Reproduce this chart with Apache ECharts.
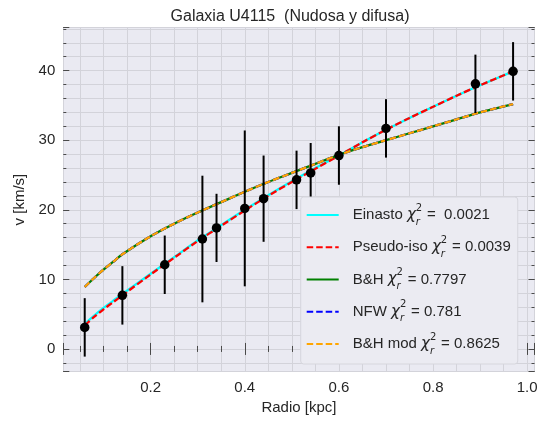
<!DOCTYPE html>
<html>
<head>
<meta charset="utf-8">
<script src="https://cdn.jsdelivr.net/npm/echarts@6/dist/echarts.min.js"></script>
<style>
  html, body { margin: 0; padding: 0; background: #ffffff; }
  #chart { width: 543px; height: 421px; }
</style>
</head>
<body>
<div id="chart"></div>
<script>
// Observed rotation curve of U4115 (radius in kpc, velocity and error in km/s)
const radioObs = [0.06, 0.14, 0.23, 0.31, 0.34, 0.40, 0.44, 0.51, 0.54, 0.60, 0.70, 0.89, 0.97];
const vObs     = [3.1, 7.7, 12.1, 15.8, 17.4, 20.2, 21.6, 24.3, 25.3, 27.8, 31.7, 38.1, 39.9];
const errObs   = [4.2, 4.2, 4.2, 9.1, 4.9, 11.2, 6.2, 4.2, 4.3, 4.2, 4.2, 4.2, 4.2];

// Fitted halo models, sampled along the radius
const radioModelo = [0.06, 0.08, 0.10, 0.12, 0.14, 0.20, 0.25, 0.30, 0.35, 0.40, 0.45,
                     0.50, 0.55, 0.60, 0.65, 0.70, 0.75, 0.80, 0.85, 0.90, 0.97];
const vEinasto   = [3.6, 4.8, 5.9, 6.9, 7.9, 10.8, 13.2, 15.6, 17.8, 20.0, 22.1,
                    24.1, 26.0, 27.8, 29.7, 31.5, 33.2, 34.8, 36.4, 37.9, 39.9];
const vPseudoIso = [3.4, 4.6, 5.7, 6.7, 7.7, 10.7, 13.1, 15.5, 17.7, 19.9, 22.0,
                    24.0, 25.9, 27.8, 29.7, 31.5, 33.2, 34.8, 36.4, 37.9, 39.9];
const vBH        = [8.9, 10.2, 11.4, 12.5, 13.6, 16.2, 18.0, 19.6, 21.1, 22.6, 24.0,
                    25.3, 26.6, 27.9, 29.0, 30.0, 31.0, 32.0, 33.0, 34.0, 35.2];
const vNFW       = [8.9, 10.2, 11.4, 12.5, 13.6, 16.2, 18.0, 19.6, 21.1, 22.6, 24.0,
                    25.3, 26.6, 27.9, 29.0, 30.0, 31.0, 32.0, 33.0, 34.0, 35.2];
const vBHmod     = [8.9, 10.2, 11.4, 12.5, 13.6, 16.2, 18.0, 19.6, 21.1, 22.6, 24.0,
                    25.3, 26.6, 27.9, 29.0, 30.0, 31.0, 32.0, 33.0, 34.0, 35.2];

// Model names and reduced chi-square values shown in the legend
const modelos = ['Einasto', 'Pseudo-iso', 'B&H', 'NFW', 'B&H mod'];
const chiTexto = ['=  0.0021', '= 0.0039', '= 0.7797', '= 0.781', '= 0.8625'];

// Axis extents and tick spacing
const xLimites = [0.0145, 1.0155];
const yLimites = [-3.27, 46.2];
const xMayor = 0.2, xMenor = 0.05;
const yMayor = 10, yMenor = 2;

const TXT = '#262626';
const GRID = '#d3d3da';
const TICK = '#4a4a4a';
const FONT = 'Liberation Sans, Arial, sans-serif';

const pares = (xs, ys) => xs.map((x, i) => [x, ys[i]]);
const esMultiplo = (v, p) => Math.abs(v / p - Math.round(v / p)) < 1e-6;

function ejeX(pos, paso, mayor, etiquetas) {
  return {
    type: 'value', position: pos, min: xLimites[0], max: xLimites[1],
    minInterval: paso, maxInterval: paso,
    axisLine: { show: false },
    axisTick: { show: true, inside: true, length: mayor ? 6 : 3, lineStyle: { color: TICK, width: 1 } },
    axisLabel: etiquetas ? {
      show: true, margin: 9, fontSize: 15, color: TXT, fontFamily: FONT,
      formatter: v => esMultiplo(v, xMayor) ? v.toFixed(1) : ''
    } : { show: false },
    splitLine: mayor ? { show: false } : { show: true, lineStyle: { color: GRID, width: 1 } }
  };
}
function ejeY(pos, paso, mayor, etiquetas) {
  return {
    type: 'value', position: pos, min: yLimites[0], max: yLimites[1],
    minInterval: paso, maxInterval: paso,
    axisLine: { show: false },
    axisTick: { show: true, inside: true, length: mayor ? 6 : 3, lineStyle: { color: TICK, width: 1 } },
    axisLabel: etiquetas ? {
      show: true, margin: 8, fontSize: 15, color: TXT, fontFamily: FONT,
      formatter: v => esMultiplo(v, yMayor) ? String(Math.round(v)) : ''
    } : { show: false },
    splitLine: mayor ? { show: false } : { show: true, lineStyle: { color: GRID, width: 1 } }
  };
}

const xAxes = [ejeX('bottom', xMayor, true, true), ejeX('bottom', xMenor, false, false),
               ejeX('top', xMayor, true, false), ejeX('top', xMenor, false, false)];
xAxes[0].name = 'Radio [kpc]';
xAxes[0].nameLocation = 'middle';
xAxes[0].nameGap = 27;
xAxes[0].nameTextStyle = { fontSize: 15, color: TXT, fontFamily: FONT };

const yAxes = [ejeY('left', yMayor, true, true), ejeY('left', yMenor, false, false),
               ejeY('right', yMayor, true, false), ejeY('right', yMenor, false, false)];
yAxes[0].name = 'v [km/s]';
yAxes[0].nameLocation = 'middle';
yAxes[0].nameGap = 31;
yAxes[0].nameTextStyle = { fontSize: 15, color: TXT, fontFamily: FONT };

function curva(nombre, ys, color, discontinua) {
  return {
    name: nombre, type: 'line', data: pares(radioModelo, ys),
    xAxisIndex: 0, yAxisIndex: 0,
    symbol: 'none', smooth: 0.3, silent: true, z: 2,
    lineStyle: { color: color, width: 2.3, type: discontinua ? [6.5, 3] : 'solid' },
    itemStyle: { color: color }
  };
}

const series = [
  curva(modelos[0], vEinasto, '#00ffff', false),
  curva(modelos[1], vPseudoIso, '#ff0000', true),
  curva(modelos[2], vBH, '#008000', false),
  curva(modelos[3], vNFW, '#0000ff', true),
  curva(modelos[4], vBHmod, '#ffa500', true),
  {
    // vertical error bars
    type: 'custom', xAxisIndex: 0, yAxisIndex: 0, z: 3, silent: true,
    data: radioObs.map((x, i) => [x, vObs[i], errObs[i]]),
    encode: { x: 0, y: 1 },
    renderItem: (params, api) => {
      const x = api.value(0), y = api.value(1), e = api.value(2);
      const a = api.coord([x, y - e]);
      const b = api.coord([x, y + e]);
      return {
        type: 'line',
        shape: { x1: a[0], y1: a[1], x2: b[0], y2: b[1] },
        style: { stroke: '#000000', lineWidth: 2 }
      };
    }
  },
  {
    type: 'scatter', xAxisIndex: 0, yAxisIndex: 0, z: 4, silent: true,
    data: pares(radioObs, vObs),
    symbol: 'circle', symbolSize: 9.5,
    itemStyle: { color: '#000000', opacity: 1 }
  }
];

const rico = {
  a:   { fontSize: 15, fontFamily: FONT, color: TXT, lineHeight: 24, padding: [0, 0, 0, 9] },
  t:   { fontSize: 15, fontFamily: FONT, color: TXT, lineHeight: 24 },
  chi: { fontSize: 15, fontFamily: 'DejaVu Sans', fontStyle: 'italic', color: TXT, lineHeight: 24 },
  sup: { fontSize: 10, fontFamily: 'DejaVu Sans', color: TXT, verticalAlign: 'top', width: 0 },
  sub: { fontSize: 10, fontFamily: 'DejaVu Sans', fontStyle: 'italic', color: TXT, verticalAlign: 'bottom', width: 7 }
};

const option = {
  animation: false,
  backgroundColor: '#ffffff',
  title: {
    text: 'Galaxia U4115  (Nudosa y difusa)',
    left: 285, top: 4, textAlign: 'center',
    textStyle: { fontSize: 16, fontWeight: 'normal', color: TXT, fontFamily: FONT }
  },
  grid: {
    left: 63.3, right: 8.5, top: 27.5, bottom: 49.3,
    show: true, backgroundColor: '#eaeaf2', borderWidth: 0
  },
  xAxis: xAxes,
  yAxis: yAxes,
  legend: {
    orient: 'vertical', left: 300.7, top: 197,
    padding: [6, 7, 8, 5], itemGap: 8.25, itemWidth: 32, itemHeight: 14,
    backgroundColor: '#ebebf2', borderColor: '#d6d6dd', borderWidth: 1, borderRadius: 3,
    data: modelos, selectedMode: false,
    // line-only keys: the marker symbol is made invisible
    itemStyle: { color: 'rgba(0,0,0,0)', borderWidth: 0, opacity: 0 },
    lineStyle: { width: 2 },
    textStyle: { fontSize: 15, fontFamily: FONT, color: TXT, rich: rico },
    formatter: nombre => {
      const i = modelos.indexOf(nombre);
      return '{a|' + nombre + ' }{chi|χ}{sup|2}{sub|r}{t| ' + chiTexto[i] + '}';
    }
  },
  series: series
};

const chart = echarts.init(document.getElementById('chart'), null, { renderer: 'canvas' });
chart.setOption(option);
</script>
</body>
</html>
